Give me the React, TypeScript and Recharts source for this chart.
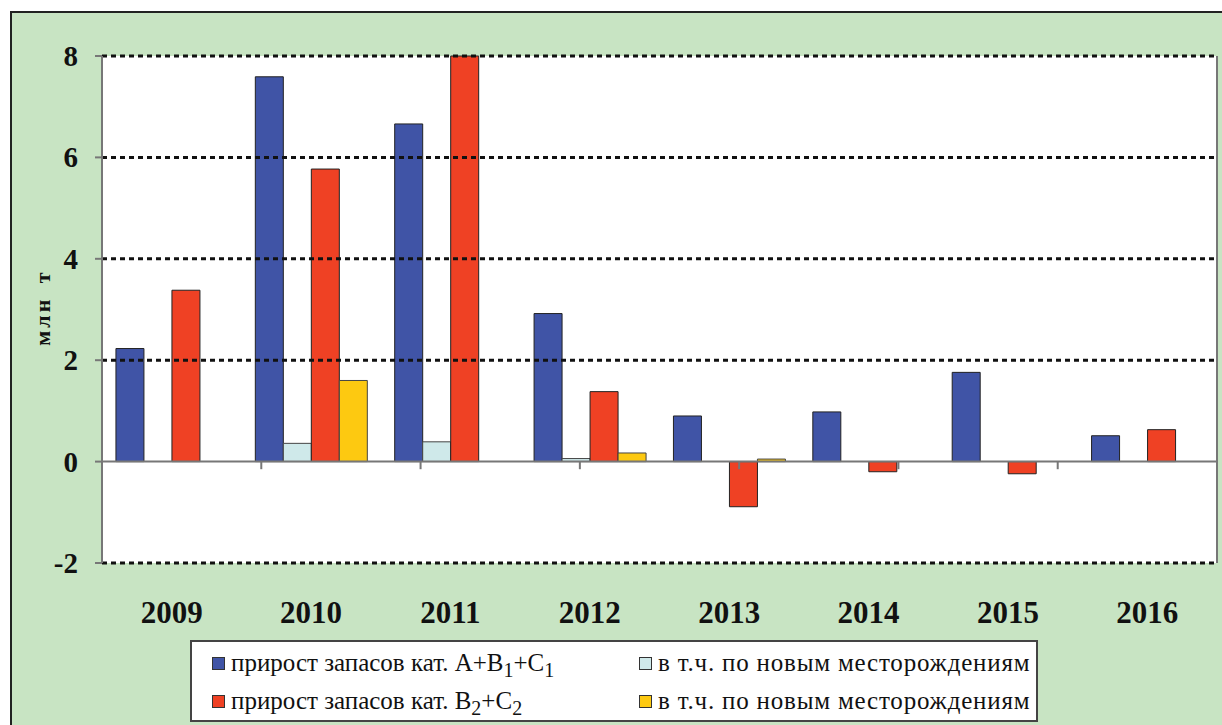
import React from "react";
import {
  BarChart,
  Bar,
  XAxis,
  YAxis,
  CartesianGrid,
  ReferenceLine,
  Label,
} from "recharts";

// Годы
const years = ["2009", "2010", "2011", "2012", "2013", "2014", "2015", "2016"];

// Прирост запасов кат. A+B1+C1, млн т
const growthABC1 = [2.23, 7.59, 6.66, 2.92, 0.9, 0.98, 1.76, 0.51];
// в т.ч. по новым месторождениям (A+B1+C1)
const newFieldsABC1 = [0, 0.36, 0.39, 0.06, 0, 0, 0, 0];
// Прирост запасов кат. B2+C2, млн т
const growthB2C2 = [3.38, 5.77, 8.0, 1.38, -0.89, -0.2, -0.24, 0.63];
// в т.ч. по новым месторождениям (B2+C2)
const newFieldsB2C2 = [0, 1.6, 0, 0.17, 0.05, 0, 0, 0];

const yTicks = [-2, 0, 2, 4, 6, 8];
const gridValues = [-2, 2, 4, 6, 8];
const boundaries = [1, 2, 3, 4, 5, 6, 7];

const COLORS = {
  blue: "#4054a6",
  lightBlue: "#cfe9ea",
  red: "#ef4124",
  yellow: "#fdc911",
};

const data = years.map((year, i) => ({
  year,
  abc1: growthABC1[i],
  abc1New: newFieldsABC1[i],
  b2c2: growthB2C2[i],
  b2c2New: newFieldsB2C2[i],
}));

const SERIF =
  "Liberation Serif, Tinos, Times New Roman, DejaVu Serif, Noto Serif, serif";

const YearTick = (props: any) => {
  const { x, y, payload } = props;
  return (
    <text
      x={x}
      y={y + 52}
      textAnchor="middle"
      style={{ fontFamily: SERIF }}
      fontWeight="bold"
      fontSize={31}
      fill="#111"
    >
      {payload.value}
    </text>
  );
};

const ValueTick = (props: any) => {
  const { x, y, payload } = props;
  return (
    <text
      x={x - 15}
      y={y + 10}
      textAnchor="end"
      style={{ fontFamily: SERIF }}
      fontWeight="bold"
      fontSize={29}
      fill="#111"
    >
      {payload.value}
    </text>
  );
};

const UnitLabel = (props: any) => {
  const { viewBox } = props;
  const cx = 42;
  const cy = viewBox.y + viewBox.height / 2 - 2;
  return (
    <text
      x={cx}
      y={cy}
      transform={`rotate(-90, ${cx}, ${cy})`}
      textAnchor="middle"
      dominantBaseline="central"
      style={{ fontFamily: SERIF, letterSpacing: 3, wordSpacing: 5 }}
      fontWeight="bold"
      fontSize={22}
      fill="#111"
    >
      млн т
    </text>
  );
};

const Swatch = ({ color }: { color: string }) => (
  <span
    style={{
      display: "inline-block",
      width: 11,
      height: 11,
      background: color,
      border: "1px solid #333",
      marginRight: 6,
      verticalAlign: "middle",
      position: "relative",
      top: -2,
    }}
  />
);

const sub: React.CSSProperties = { fontSize: 20, verticalAlign: "-6px", lineHeight: 0 };

export default function App() {
  return (
    <div
      style={{
        position: "absolute",
        left: 0,
        top: 0,
        width: 1222,
        height: 725,
        background: "#fff",
        overflow: "hidden",
        fontFamily: SERIF,
      }}
    >
      <div
        style={{
          position: "absolute",
          left: 10,
          top: 11,
          width: 1222,
          height: 725,
          background: "#c8e4c3",
          borderTop: "2px solid #222",
          borderLeft: "2px solid #222",
        }}
      />
      <div style={{ position: "absolute", left: 0, top: 0 }}>
        <BarChart
          width={1222}
          height={725}
          data={data}
          margin={{ top: 56, right: 4, left: 12, bottom: 122 }}
          barCategoryGap="10%"
          barGap={0}
        >
          <CartesianGrid fill="#ffffff" horizontal={false} vertical={false} />
          <XAxis
            dataKey="year"
            axisLine={false}
            tickLine={false}
            height={40}
            tick={<YearTick />}
            interval={0}
          />
          <XAxis xAxisId="pos" type="number" domain={[0, 8]} hide />
          <YAxis
            domain={[-2, 8]}
            ticks={yTicks}
            width={90}
            axisLine={{ stroke: "#777", strokeWidth: 2 }}
            tickLine={{ stroke: "#777", strokeWidth: 2 }}
            tickSize={7}
            tick={<ValueTick />}
            interval={0}
          >
            <Label content={<UnitLabel />} />
          </YAxis>
          <YAxis
            yAxisId="right"
            orientation="right"
            width={1}
            domain={[-2, 8]}
            tick={false}
            tickLine={false}
            axisLine={{ stroke: "#777", strokeWidth: 2 }}
          />
          {gridValues.map((v) => (
            <ReferenceLine
              key={v}
              y={v}
              stroke="#111"
              strokeWidth={3}
              strokeDasharray="5 4"
            />
          ))}
          <Bar dataKey="abc1" fill={COLORS.blue} stroke="#222" strokeWidth={1} isAnimationActive={false} />
          <Bar dataKey="abc1New" fill={COLORS.lightBlue} stroke="#444" strokeWidth={1} isAnimationActive={false} />
          <Bar dataKey="b2c2" fill={COLORS.red} stroke="#222" strokeWidth={1} isAnimationActive={false} />
          <Bar dataKey="b2c2New" fill={COLORS.yellow} stroke="#444" strokeWidth={1} isAnimationActive={false} />
          <ReferenceLine y={0} stroke="#777" strokeWidth={2} />
          {boundaries.map((b) => (
            <ReferenceLine
              key={b}
              xAxisId="pos"
              segment={[
                { x: b, y: 0 },
                { x: b, y: -0.15 },
              ]}
              stroke="#777"
              strokeWidth={2}
            />
          ))}
        </BarChart>
      </div>
      <div
        style={{
          position: "absolute",
          left: 190,
          top: 640,
          width: 844,
          height: 78,
          background: "#fff",
          border: "2px solid #444",
          fontFamily: SERIF,
          fontSize: 25,
          color: "#111",
        }}
      >
        <div style={{ position: "absolute", left: 20, top: 7, whiteSpace: "nowrap" }}>
          <Swatch color={COLORS.blue} />
          прирост запасов кат. A+B<span style={sub}>1</span>+C<span style={sub}>1</span>
        </div>
        <div style={{ position: "absolute", left: 447, top: 7, whiteSpace: "nowrap", letterSpacing: 0.8 }}>
          <Swatch color={COLORS.lightBlue} />в т.ч. по новым месторождениям
        </div>
        <div style={{ position: "absolute", left: 20, top: 45, whiteSpace: "nowrap" }}>
          <Swatch color={COLORS.red} />
          прирост запасов кат. B<span style={sub}>2</span>+C<span style={sub}>2</span>
        </div>
        <div style={{ position: "absolute", left: 447, top: 45, whiteSpace: "nowrap", letterSpacing: 0.8 }}>
          <Swatch color={COLORS.yellow} />в т.ч. по новым месторождениям
        </div>
      </div>
    </div>
  );
}
